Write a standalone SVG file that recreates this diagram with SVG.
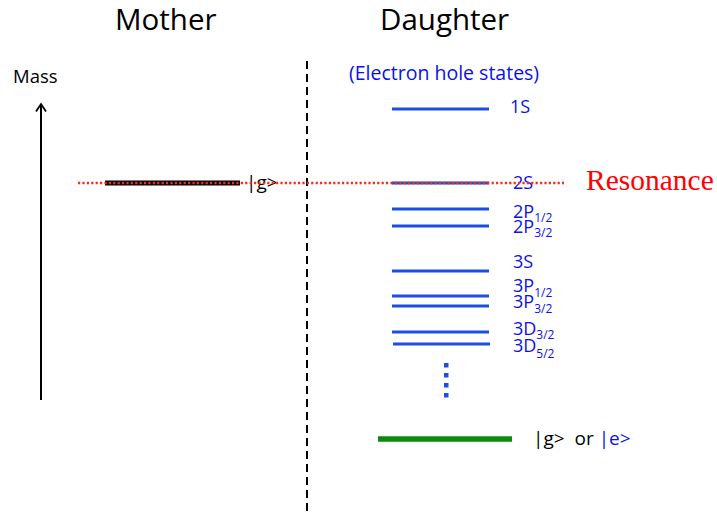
<svg xmlns="http://www.w3.org/2000/svg" width="717" height="512" viewBox="0 0 717 512">
<defs>
<style>
.t{font-family:"Open Sans","Liberation Sans",sans-serif;}
.h{font-size:29.5px;fill:#000;}
.lbl{font-size:18px;fill:#0a10f0;}
.sub{font-size:12px;}
.lvl{stroke:#1b4ee6;stroke-width:3;fill:none;}
.blk{font-size:19px;fill:#000;}
</style>
<marker id="arr" viewBox="0 0 12 12" refX="10" refY="6" markerWidth="12" markerHeight="12" markerUnits="userSpaceOnUse" orient="auto">
<path d="M2.5,1 L10,6 L2.5,11" fill="none" stroke="#000" stroke-width="1.8"/>
</marker>
</defs>
<rect width="717" height="512" fill="#fff"/>
<g id="titles">
<text class="t h" x="115" y="30">Mother</text>
<text class="t h" x="380" y="30">Daughter</text>
</g>
<g id="axis">
<line x1="41" y1="400" x2="41" y2="104" stroke="#000" stroke-width="2" marker-end="url(#arr)"/>
<text class="t" x="13" y="83" font-size="18.5" fill="#000">Mass</text>
</g>
<g id="divider">
<line x1="307" y1="61" x2="307" y2="512" stroke="#000" stroke-width="2" stroke-dasharray="8,5"/>
</g>
<g id="mother-g">
<line x1="105" y1="183" x2="240" y2="183" stroke="#000" stroke-width="5"/>
<text class="t blk" x="246" y="189">|g&gt;</text>
</g>
<g id="header">
<text class="t" x="349" y="80" font-size="19.5" fill="#0a10f0">(Electron hole states)</text>
</g>
<g id="level-1S">
<line class="lvl" x1="392" y1="109" x2="489" y2="109"/>
<text class="t lbl" x="510" y="113">1S</text>
</g>
<g id="level-2S">
<line class="lvl" x1="392" y1="183" x2="489" y2="183"/>
<text class="t lbl" x="513" y="189">2S</text>
</g>
<g id="level-2P12">
<line class="lvl" x1="392" y1="209" x2="489" y2="209"/>
<text class="t lbl" x="513" y="218">2P<tspan class="sub" dy="4">1/2</tspan></text>
</g>
<g id="level-2P32">
<line class="lvl" x1="392" y1="226" x2="489" y2="226"/>
<text class="t lbl" x="513" y="233">2P<tspan class="sub" dy="4">3/2</tspan></text>
</g>
<g id="level-3S">
<line class="lvl" x1="392" y1="271" x2="489" y2="271"/>
<text class="t lbl" x="513" y="268">3S</text>
</g>
<g id="level-3P12">
<line class="lvl" x1="392" y1="296" x2="489" y2="296"/>
<text class="t lbl" x="513" y="292">3P<tspan class="sub" dy="5">1/2</tspan></text>
</g>
<g id="level-3P32">
<line class="lvl" x1="392" y1="306" x2="489" y2="306"/>
<text class="t lbl" x="513" y="308">3P<tspan class="sub" dy="5">3/2</tspan></text>
</g>
<g id="level-3D32">
<line class="lvl" x1="392" y1="332" x2="489" y2="332"/>
<text class="t lbl" x="513" y="335">3D<tspan class="sub" dy="4">3/2</tspan></text>
</g>
<g id="level-3D52">
<line class="lvl" x1="393" y1="344" x2="490" y2="344"/>
<text class="t lbl" x="513" y="352">3D<tspan class="sub" dy="6">5/2</tspan></text>
</g>
<g id="ellipsis" fill="#1b4ee6">
<rect x="444" y="363" width="4.5" height="4.5"/>
<rect x="444" y="373" width="4.5" height="4.5"/>
<rect x="444" y="383" width="4.5" height="4.5"/>
<rect x="444" y="393" width="4.5" height="4.5"/>
</g>
<g id="ground">
<line x1="378" y1="439" x2="512" y2="439" stroke="#0b8a0b" stroke-width="5.5"/>
<text class="t blk" x="533" y="445" xml:space="preserve">|g&gt;  or <tspan fill="#0a10f0">|e&gt;</tspan></text>
</g>
<g id="connectors">
<line x1="78" y1="183" x2="564" y2="183" stroke="#ff2a10" stroke-width="2.5" stroke-dasharray="2.2,2.2"/>
</g>
<g id="resonance">
<text x="586" y="190" font-family="Liberation Serif, serif" font-size="29.5" fill="#ff0000">Resonance</text>
</g>
</svg>
